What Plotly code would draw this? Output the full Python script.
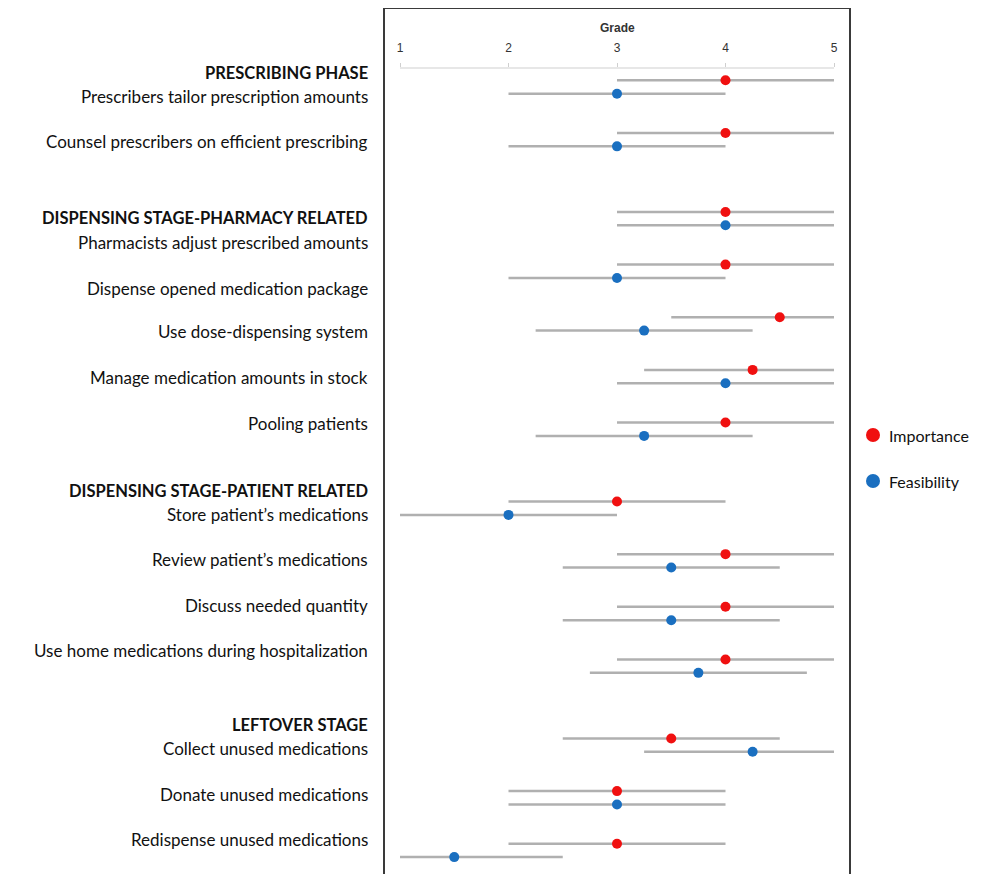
import plotly.graph_objects as go

# ---------------- data ----------------
items = [
    "Prescribers tailor prescription amounts",
    "Counsel prescribers on efficient prescribing",
    "Pharmacists adjust prescribed amounts",
    "Dispense opened medication package",
    "Use dose-dispensing system",
    "Manage medication amounts in stock",
    "Pooling patients",
    "Store patient\u2019s medications",
    "Review patient\u2019s medications",
    "Discuss needed quantity",
    "Use home medications during hospitalization",
    "Collect unused medications",
    "Donate unused medications",
    "Redispense unused medications",
]
item_group = [0, 0, 1, 1, 1, 1, 1, 2, 2, 2, 2, 3, 3, 3]
groups = [
    "PRESCRIBING PHASE",
    "DISPENSING STAGE-PHARMACY RELATED",
    "DISPENSING STAGE-PATIENT RELATED",
    "LEFTOVER STAGE",
]

imp_med = [4, 4, 4, 4, 4.5, 4.25, 4, 3, 4, 4, 4, 3.5, 3, 3]
imp_lo = [3, 3, 3, 3, 3.5, 3.25, 3, 2, 3, 3, 3, 2.5, 2, 2]
imp_hi = [5, 5, 5, 5, 5, 5, 5, 4, 5, 5, 5, 4.5, 4, 4]

feas_med = [3, 3, 4, 3, 3.25, 4, 3.25, 2, 3.5, 3.5, 3.75, 4.25, 3, 1.5]
feas_lo = [2, 2, 3, 2, 2.25, 3, 2.25, 1, 2.5, 2.5, 2.75, 3.25, 2, 1]
feas_hi = [4, 4, 5, 4, 4.25, 5, 4.25, 3, 4.5, 4.5, 4.75, 5, 4, 2.5]

grade_ticks = [1, 2, 3, 4, 5]

# ---------------- layout helpers ----------------
# page has an 8px body margin: work in page pixels and shift by OFFSET
OFFSET = 8
PAGE_W, PAGE_H = 1001, 874
W, H = PAGE_W - OFFSET, PAGE_H - OFFSET
# plot area in page pixels
PL, PR, PT, PB = 384, 850, 68, 874
ML, MR, MT, MB = PL - OFFSET, PAGE_W - PR, PT - OFFSET, PAGE_H - PB
PW, PH = PR - PL, PB - PT
ROW_PX = 52.65        # px per row unit
ROW0_PX = 87          # page pixel y of first row centre
OFF = 0.127           # half-gap between importance / feasibility lines

pos = [i + 0.5 * g for i, g in enumerate(item_group)]
y_imp = [p - OFF for p in pos]
y_feas = [p + OFF for p in pos]

y_top = (PT - ROW0_PX) / ROW_PX
y_bot = (PB - ROW0_PX) / ROW_PX

px_per_unit = 108.5
pad = 16 / px_per_unit
x_range = [1 - pad, 5 + pad]


def paper_y(py):
    return 1 - (py - PT) / PH


def seg(lo, hi, ys):
    xs, yy = [], []
    for a, b, y in zip(lo, hi, ys):
        xs += [a, b, None]
        yy += [y, y, None]
    return xs, yy


RED = "#f01010"
BLUE = "#1a6fc0"
LINE = "#b0b0b0"

fig = go.Figure()
xi, yi = seg(imp_lo, imp_hi, y_imp)
xf, yf = seg(feas_lo, feas_hi, y_feas)
fig.add_trace(go.Scatter(x=xi, y=yi, mode="lines", line=dict(color=LINE, width=2.5),
                         hoverinfo="skip", showlegend=False))
fig.add_trace(go.Scatter(x=xf, y=yf, mode="lines", line=dict(color=LINE, width=2.5),
                         hoverinfo="skip", showlegend=False))
fig.add_trace(go.Scatter(x=imp_med, y=y_imp, mode="markers", name="Importance",
                         marker=dict(color=RED, size=10), showlegend=False,
                         text=items, hovertemplate="%{text}<br>Importance: %{x}<extra></extra>"))
fig.add_trace(go.Scatter(x=feas_med, y=y_feas, mode="markers", name="Feasibility",
                         marker=dict(color=BLUE, size=10), showlegend=False,
                         text=items, hovertemplate="%{text}<br>Feasibility: %{x}<extra></extra>"))

LABEL_FONT = dict(family="Lato, Liberation Sans, Arial", size=17, color="#111111")
HEADER_FONT = dict(family="Lato, Liberation Sans, Arial", size=16.5, color="#111111")
ann = []
# left labels (separate table, own spacing)
header_px = [73, 218, 491, 725]
item_label_px = [96, 141, 242, 288, 331, 377, 424, 514, 559, 605, 650, 748, 794, 839]
for g, py in zip(groups, header_px):
    ann.append(dict(text="<b>" + g + "</b>", xref="paper", yref="paper", x=0, y=paper_y(py),
                    xanchor="right", yanchor="middle", xshift=370 - PL, showarrow=False,
                    font=HEADER_FONT))
for t, py in zip(items, item_label_px):
    ann.append(dict(text=t, xref="paper", yref="paper", x=0, y=paper_y(py),
                    xanchor="right", yanchor="middle", xshift=370 - PL, showarrow=False,
                    font=LABEL_FONT))
# axis title
ann.append(dict(text="<b>Grade</b>", xref="x", yref="paper", x=3, y=paper_y(28),
                xanchor="center", yanchor="middle", showarrow=False,
                font=dict(family="Liberation Sans, Arial", size=12, color="#333333")))
# legend text
for t, py in [("Importance", 435), ("Feasibility", 481)]:
    ann.append(dict(text=t, xref="paper", yref="paper", x=1, y=paper_y(py),
                    xanchor="left", yanchor="middle", xshift=887 - PR, showarrow=False,
                    font=dict(family="Lato, Liberation Sans, Arial", size=16, color="#111111")))

shapes = []
FRAME = "#3a3a3a"
top_paper = paper_y(8)
shapes.append(dict(type="line", xref="paper", yref="paper", x0=0, x1=0, y0=0, y1=top_paper,
                   line=dict(color=FRAME, width=2)))
shapes.append(dict(type="line", xref="paper", yref="paper", x0=1, x1=1, y0=0, y1=top_paper,
                   line=dict(color=FRAME, width=2)))
shapes.append(dict(type="line", xref="paper", yref="paper", x0=0, x1=1, y0=top_paper, y1=top_paper,
                   line=dict(color=FRAME, width=2)))
# axis line between 1 and 5
shapes.append(dict(type="line", xref="x", yref="paper", x0=grade_ticks[0], x1=grade_ticks[-1],
                   y0=1, y1=1, line=dict(color="#cfcfcf", width=1)))
# legend markers
for col, py in [(RED, 435), (BLUE, 481)]:
    cy = paper_y(py)
    shapes.append(dict(type="circle", xref="paper", yref="paper", xsizemode="pixel",
                       ysizemode="pixel", xanchor=1, yanchor=cy,
                       x0=873 - PR - 7, x1=873 - PR + 7, y0=-7, y1=7,
                       fillcolor=col, line=dict(width=0)))

fig.update_layout(
    width=W, height=H,
    margin=dict(l=ML, r=MR, t=MT, b=MB, pad=0),
    paper_bgcolor="white", plot_bgcolor="white",
    annotations=ann, shapes=shapes,
    xaxis=dict(range=x_range, side="top", tickvals=grade_ticks, ticks="outside", ticklen=4,
               tickcolor="#cfcfcf", showline=False, showgrid=False, zeroline=False,
               tickfont=dict(family="Liberation Sans, Arial", size=12, color="#333333"),
               ticklabelstandoff=6, fixedrange=True),
    yaxis=dict(range=[y_bot, y_top], showticklabels=False, showgrid=False, zeroline=False,
               showline=False, ticks="", fixedrange=True),
    showlegend=False,
)

fig.write_html("out.html")
